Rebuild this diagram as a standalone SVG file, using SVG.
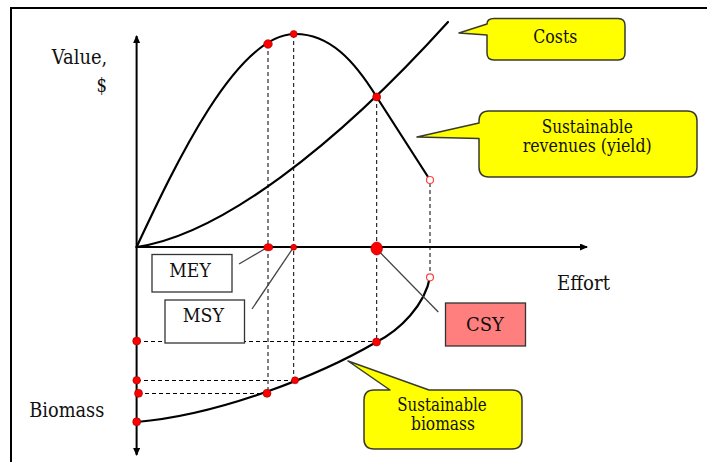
<svg xmlns="http://www.w3.org/2000/svg" width="707" height="462" viewBox="0 0 707 462">
  <style>
    .t { font-family: "DejaVu Serif", serif; fill: #111; }
    .axis { stroke: #000; stroke-width: 2; fill: none; }
    .curve { stroke: #000; stroke-width: 2.2; fill: none; stroke-linecap: round; }
    .dash { stroke: #000; stroke-width: 1; stroke-dasharray: 4 3; fill: none; }
    .leader { stroke: #444; stroke-width: 1.3; fill: none; }
    .dot { fill: #f00; stroke: #900; stroke-width: 0.6; }
    .open { fill: #fff; stroke: #f44; stroke-width: 1.2; }
    .callout { fill: #ff0; stroke: #3a3a2a; stroke-width: 1.5; stroke-linejoin: round; }
    .box { fill: #fff; stroke: #333; stroke-width: 1.3; }
    .box-red { fill: #ff7f7f; stroke: #333; stroke-width: 1.3; }
    .lbl { font-size: 20.5px; }
    .bx { font-size: 18px; text-anchor: middle; }
    .cl { font-size: 18px; text-anchor: middle; }
  </style>
  <defs>
    <marker id="arrow" viewBox="0 0 8 7" refX="7" refY="3.5" markerWidth="8" markerHeight="7" markerUnits="userSpaceOnUse" orient="auto">
      <path d="M0,0 L8,3.5 L0,7 Z" fill="#000"/>
    </marker>
  </defs>
  <rect width="707" height="462" fill="#fff"/>

  <!-- frame -->
  <path d="M11,462 L11,8 L707,8" fill="none" stroke="#000" stroke-width="2"/>

  <!-- guide lines (dashed projections) -->
  <g id="guides">
    <path class="dash" d="M268,44 V393"/>
    <path class="dash" d="M293.7,34 V380"/>
    <path class="dash" d="M376.7,97 V342"/>
    <path class="dash" d="M430,183 V274"/>
    <path class="dash" d="M137,341.5 H376.7"/>
    <path class="dash" d="M137,380.5 H294"/>
    <path class="dash" d="M138,393.5 H267"/>
  </g>

  <!-- axes -->
  <g id="axes">
    <path class="axis" d="M136.6,247 V36" marker-end="url(#arrow)"/>
    <path class="axis" d="M136.6,247 V455" marker-end="url(#arrow)"/>
    <path class="axis" d="M136.6,247 H587" marker-end="url(#arrow)"/>
  </g>

  <!-- curves -->
  <g id="connectors">
    <path id="revenue-curve" class="curve" d="M136.6,247 C176,163 236,36 293.7,34 C330,33 355,62 376.7,97 L430,180"/>
    <path id="cost-curve" class="curve" d="M136.6,247 C220,235 335,147 448,22"/>
    <path id="biomass-curve" class="curve" d="M136.7,422 C220,415 320,375 376.5,342 C400,330 425,305 430,277"/>
    <path class="leader" d="M239,264 L268,247"/>
    <path class="leader" d="M252,309 L293.7,247"/>
    <path class="leader" d="M376.7,249 L438.3,312"/>
  </g>

  <!-- points -->
  <g id="points">
    <circle class="dot" cx="268" cy="44" r="4.3"/>
    <circle class="dot" cx="293.7" cy="34" r="3.5"/>
    <circle class="dot" cx="376.7" cy="97" r="4"/>
    <ellipse class="dot" cx="268.3" cy="247.3" rx="4.5" ry="3.5"/>
    <circle class="dot" cx="293.7" cy="247.3" r="3"/>
    <ellipse class="dot" cx="376.7" cy="248.5" rx="5.8" ry="6.5"/>
    <circle class="dot" cx="267" cy="393.3" r="4"/>
    <circle class="dot" cx="295" cy="380.3" r="3.5"/>
    <circle class="dot" cx="376.5" cy="342" r="4"/>
    <circle class="dot" cx="136.7" cy="341" r="4"/>
    <circle class="dot" cx="136.7" cy="380.3" r="3.8"/>
    <circle class="dot" cx="138.5" cy="393.3" r="4"/>
    <circle class="dot" cx="136.7" cy="421.8" r="4"/>
    <circle class="open" cx="430" cy="180" r="3.5"/>
    <circle class="open" cx="430" cy="277.3" r="3.5"/>
  </g>

  <!-- axis labels -->
  <g id="value-label">
    <text class="t lbl" x="51.7" y="64" textLength="55.6" lengthAdjust="spacingAndGlyphs">Value,</text>
    <text class="t lbl" x="96.5" y="92" textLength="10.5" lengthAdjust="spacingAndGlyphs">$</text>
  </g>
  <g id="effort-label"><text class="t lbl" x="557" y="290" textLength="53" lengthAdjust="spacingAndGlyphs">Effort</text></g>
  <g id="biomass-label"><text class="t lbl" x="29.3" y="417" textLength="75" lengthAdjust="spacingAndGlyphs">Biomass</text></g>

  <!-- point labels -->
  <g id="mey">
    <rect class="box" x="152" y="254.5" width="80" height="37.5"/>
    <text class="t bx" x="190" y="277" textLength="41.4" lengthAdjust="spacingAndGlyphs">MEY</text>
  </g>
  <g id="msy">
    <rect class="box" x="165" y="300" width="79.5" height="43"/>
    <text class="t bx" x="203.4" y="322" textLength="41.3" lengthAdjust="spacingAndGlyphs">MSY</text>
  </g>
  <g id="csy">
    <rect class="box-red" x="445.5" y="303" width="80" height="43"/>
    <text class="t bx" x="485" y="331" textLength="38" lengthAdjust="spacingAndGlyphs">CSY</text>
  </g>

  <!-- callouts -->
  <g id="costs-callout">
    <path class="callout" d="M487,24 L459,33 L487,35 L487,53 Q487,60 494,60 L618,60 Q625,60 625,53 L625,25.5 Q625,18.5 618,18.5 L494,18.5 Q487,18.5 487,24 Z"/>
    <text class="t cl" x="555.3" y="43" textLength="44" lengthAdjust="spacingAndGlyphs">Costs</text>
  </g>
  <g id="revenues-callout">
    <path class="callout" d="M479,123 L417,137 L479,138.5 L479,167 Q479,177 489,177 L687,177 Q697,177 697,167 L697,121 Q697,111 687,111 L489,111 Q479,111 479,121 Z"/>
    <text class="t cl" x="587.2" y="133" textLength="91" lengthAdjust="spacingAndGlyphs">Sustainable</text>
    <text class="t cl" x="587.2" y="152" textLength="129" lengthAdjust="spacingAndGlyphs">revenues (yield)</text>
  </g>
  <g id="biomass-callout">
    <path class="callout" d="M390,390 L348,361 L429,390 L512,390 Q522,390 522,400 L522,439 Q522,449 512,449 L374,449 Q364,449 364,439 L364,400 Q364,390 374,390 Z"/>
    <text class="t cl" x="442" y="411" textLength="89.4" lengthAdjust="spacingAndGlyphs">Sustainable</text>
    <text class="t cl" x="443" y="430" textLength="64" lengthAdjust="spacingAndGlyphs">biomass</text>
  </g>
</svg>
